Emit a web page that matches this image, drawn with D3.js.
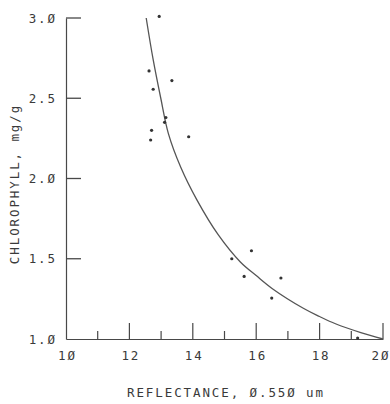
<!DOCTYPE html>
<html>
<head>
<meta charset="utf-8">
<script src="https://cdn.jsdelivr.net/npm/d3@7"></script>
<style>
  html, body { margin: 0; padding: 0; background: #fff; }
  svg { display: block; }
  text { font-family: "DejaVu Sans Mono", monospace; fill: #3a3a3a; }
</style>
</head>
<body>
<script>
// Observed samples
const reflectance = [12.94, 12.62, 13.34, 12.75, 13.15, 13.11, 12.70, 12.67, 13.87, 15.23, 15.85, 15.62, 16.78, 16.49, 19.2];
const chlorophyll = [3.01, 2.67, 2.61, 2.556, 2.38, 2.35, 2.30, 2.24, 2.26, 1.50, 1.55, 1.39, 1.38, 1.255, 1.006];
// Fitted curve
const curveX = [12.53, 12.75, 12.99, 13.23, 13.62, 14.12, 14.80, 15.50, 16.00, 16.50, 17.50, 18.00, 18.50, 19.30, 20.0];
const curveY = [3.0, 2.74, 2.50, 2.28, 2.07, 1.87, 1.65, 1.48, 1.395, 1.315, 1.19, 1.14, 1.095, 1.04, 1.0];
// Ticks
const xMajorTicks = [10, 12, 14, 16, 18, 20];
const xMinorTicks = [11, 13, 15, 17, 19];
const yTicks = [1.0, 1.5, 2.0, 2.5, 3.0];
const xTitle = "REFLECTANCE, Ø.55Ø um";
const yTitle = "CHLOROPHYLL, mg/g";

const W = 390, H = 404;
const svg = d3.select("body").append("svg").attr("width", W).attr("height", H);

const x = d3.scaleLinear().domain([10, 20]).range([66, 383]);
const y = d3.scaleLinear().domain([1, 3]).range([339, 18]);

const slash = s => s.replace(/0/g, "Ø");
const axisColor = "#484848";
const FS = 12.5, LS = 1.9;

// Axis lines (domains)
const yAxis = svg.append("g").attr("transform", `translate(${x(10)},0)`)
  .call(d3.axisLeft(y).tickValues(yTicks).tickSize(0).tickPadding(11)
        .tickFormat(d => slash(d3.format(".1f")(d))));
yAxis.select(".domain").attr("stroke", axisColor).attr("stroke-width", 1.2);
yAxis.selectAll(".tick text").attr("font-family", "DejaVu Sans Mono").attr("font-size", FS)
  .attr("letter-spacing", LS).attr("fill", "#3a3a3a").attr("dx", LS);

const xAxis = svg.append("g").attr("transform", `translate(0,${y(1)})`)
  .call(d3.axisBottom(x).tickValues(xMajorTicks).tickSize(0).tickPadding(13)
        .tickFormat(d => slash(String(d))));
xAxis.select(".domain").attr("stroke", axisColor).attr("stroke-width", 1.2);
xAxis.selectAll(".tick text").attr("font-family", "DejaVu Sans Mono").attr("font-size", FS)
  .attr("letter-spacing", LS).attr("fill", "#3a3a3a")
  .attr("dx", d => d === 20 ? -2.5 : LS / 2).attr("dy", "0.6em");

// Tick marks drawn inward
svg.append("g").selectAll("line").data(yTicks.filter(d => d > 1)).join("line")
  .attr("x1", x(10)).attr("x2", x(10) + 15)
  .attr("y1", d => y(d)).attr("y2", d => y(d))
  .attr("stroke", axisColor).attr("stroke-width", 1.3);
svg.append("g").selectAll("line").data(xMajorTicks.filter(d => d > 10)).join("line")
  .attr("x1", d => x(d)).attr("x2", d => x(d))
  .attr("y1", y(1)).attr("y2", y(1) - 16)
  .attr("stroke", axisColor).attr("stroke-width", 1.2);
svg.append("g").selectAll("line").data(xMinorTicks).join("line")
  .attr("x1", d => x(d)).attr("x2", d => x(d))
  .attr("y1", y(1)).attr("y2", y(1) - 8)
  .attr("stroke", axisColor).attr("stroke-width", 1.2);

// Curve
const line = d3.line().x(d => x(d[0])).y(d => y(d[1])).curve(d3.curveCatmullRom.alpha(0.5));
svg.append("path").datum(d3.zip(curveX, curveY)).attr("d", line)
  .attr("fill", "none").attr("stroke", "#555").attr("stroke-width", 1.3);

// Points
svg.append("g").selectAll("circle").data(d3.zip(reflectance, chlorophyll)).join("circle")
  .attr("cx", d => x(d[0])).attr("cy", d => y(d[1])).attr("r", 1.6).attr("fill", "#333");

// Titles
svg.append("text").attr("x", 226).attr("y", 397).attr("text-anchor", "middle")
  .attr("font-size", FS).attr("letter-spacing", LS).text(xTitle);
svg.append("text").attr("transform", "translate(19,184) rotate(-90)").attr("text-anchor", "middle")
  .attr("font-size", FS).attr("letter-spacing", LS).text(yTitle);
</script>
</body>
</html>
